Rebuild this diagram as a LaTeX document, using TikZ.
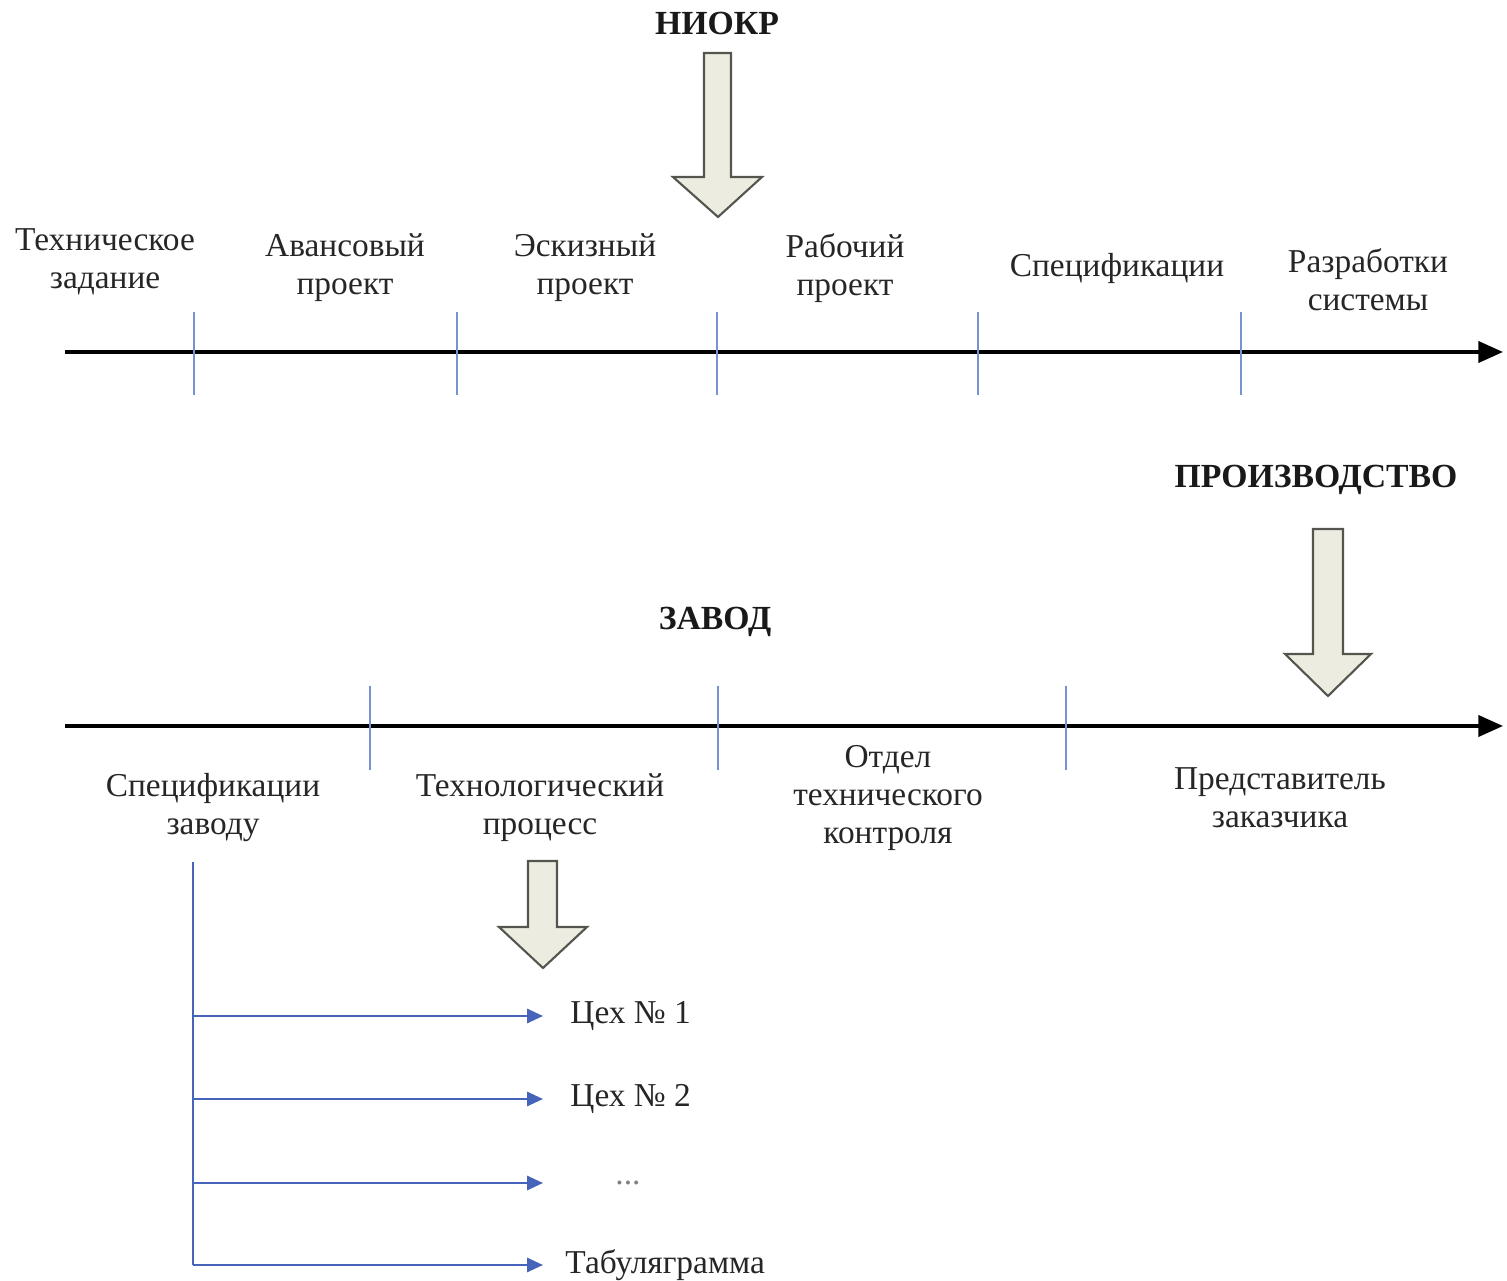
\documentclass[tikz,border=0pt]{standalone}
\usepackage{fontspec}
\setmainfont{Liberation Serif}
\usetikzlibrary{arrows.meta,positioning}
\definecolor{tickblue}{RGB}{120,145,210}
\definecolor{linkblue}{RGB}{70,100,185}
\definecolor{arrowfill}{RGB}{236,236,224}
\definecolor{arrowline}{RGB}{85,85,80}
\tikzset{
	lbl/.style={align=center, font=\fontsize{9.5}{10.8}\selectfont, text=black!85},
	title/.style={font=\bfseries\fontsize{9.6}{11}\selectfont, text=black!90},
	axis/.style={line width=1pt, -{Triangle[length=7pt,width=6pt]}},
	tick/.style={tickblue, line width=0.6pt},
	branch/.style={linkblue, line width=0.7pt, -{Triangle[length=4.5pt,width=4pt]}},
	bigarrow/.style={fill=arrowfill, draw=arrowline, line width=0.6pt},
}
\begin{document}
\begin{tikzpicture}[x=0.1mm,y=-0.1mm]
	\useasboundingbox (0,0) rectangle (1507,1281);

	% НИОКР
	\node[title] (niokr) at (717,24) {НИОКР};
	\draw[bigarrow] (704,53) -- (731,53) -- (731,177) -- (762,177) -- (718,217) -- (673,177) -- (704,177) -- cycle;

	\coordinate (top-start) at (65,352);
	\coordinate (top-end) at (1503,352);
	\draw[axis] (top-start) -- (top-end);
	\foreach \x in {194,457,717,978,1241}
		\draw[tick] (\x,312) -- (\x,395);

	\node[lbl] (tz) at (105,262) {Техническое\\задание};
	\node[lbl] (ap) at (345,268) {Авансовый\\проект};
	\node[lbl] (ep) at (585,268) {Эскизный\\проект};
	\node[lbl] (rp) at (845,268) {Рабочий\\проект};
	\node[lbl] (sp) at (1117,268) {Спецификации};
	\node[lbl] (rs) at (1368,280) {Разработки\\системы};

	% ПРОИЗВОДСТВО
	\node[title] (proizv) at (1316,480) {ПРОИЗВОДСТВО};
	\draw[bigarrow] (1313,529) -- (1343,529) -- (1343,654) -- (1371,654) -- (1328,696) -- (1285,654) -- (1313,654) -- cycle;

	\node[title] (zavod) at (715,622) {ЗАВОД};

	\coordinate (bot-start) at (65,726);
	\coordinate (bot-end) at (1503,726);
	\draw[axis] (bot-start) -- (bot-end);
	\foreach \x in {370,718,1066}
		\draw[tick] (\x,686) -- (\x,770);

	\node[lbl] (sz) at (213,808) {Спецификации\\заводу};
	\node[lbl] (tp) at (540,808) {Технологический\\процесс};
	\node[lbl] (otk) at (888,798) {Отдел\\технического\\контроля};
	\node[lbl] (pz) at (1280,798) {Представитель\\заказчика};

	\draw[bigarrow] (528,861) -- (557,861) -- (557,927) -- (587,927) -- (543,968) -- (499,927) -- (528,927) -- cycle;

	% цеха
	\coordinate (trunk-top) at (193,862);
	\coordinate (trunk-bot) at (193,1265);
	\draw[linkblue, line width=0.7pt] (trunk-top) -- (trunk-bot);
	\foreach \i/\y in {1/1016,2/1099,3/1183,4/1265} {
		\coordinate (b\i) at (193,\y);
		\coordinate (e\i) at (543,\y);
		\draw[branch] (b\i) -- (e\i);
	}
	\node[lbl, right=1.5mm of e1] (cex1) {Цех № 1};
	\node[lbl, right=1.5mm of e2] (cex2) {Цех № 2};
	\node[lbl, right=6mm of e3, text=gray] (dots) {...};
	\node[lbl, right=1mm of e4] (tab) {Табуляграмма};
\end{tikzpicture}
\end{document}
